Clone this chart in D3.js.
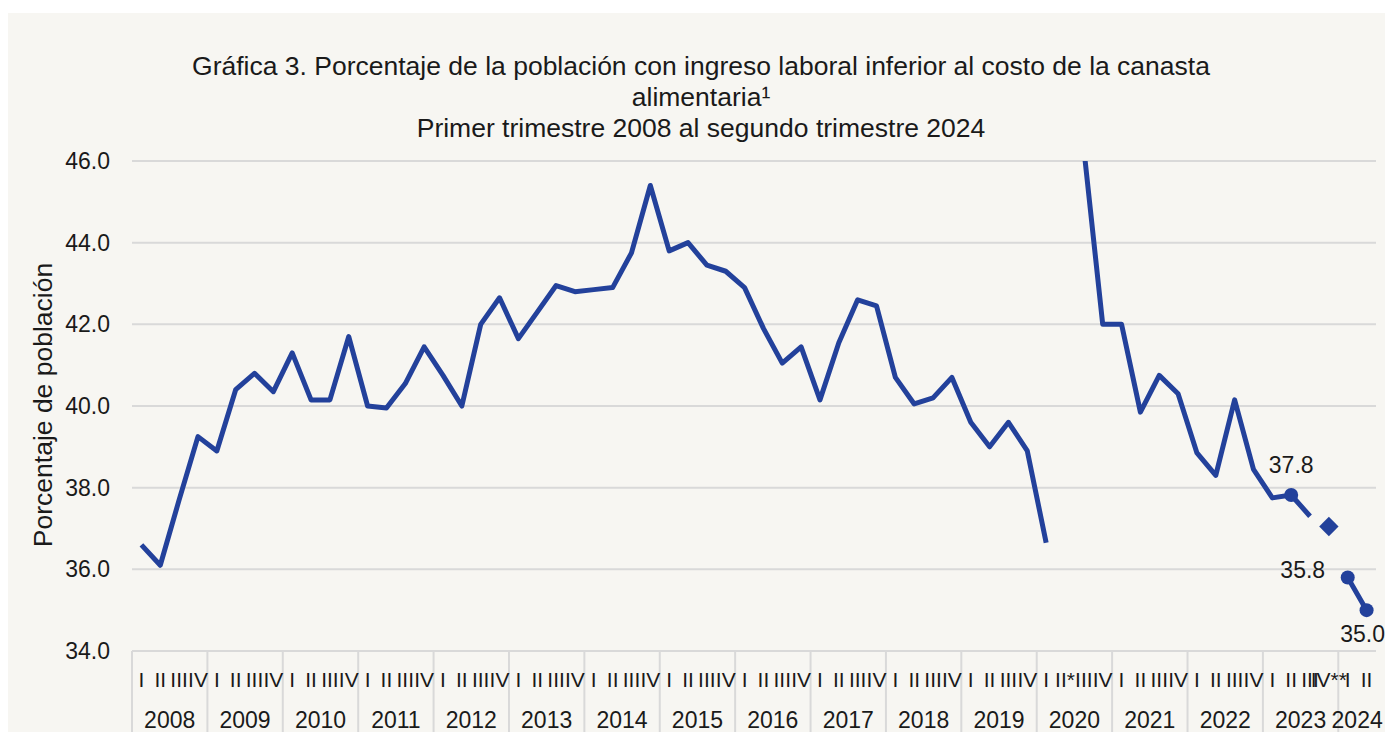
<!DOCTYPE html>
<html>
<head>
<meta charset="utf-8">
<script src="https://cdn.jsdelivr.net/npm/d3@7"></script>
<style>
  html, body { margin: 0; padding: 0; background: #ffffff; }
  svg { display: block; font-family: Arial, "Liberation Sans", sans-serif; }
</style>
</head>
<body>
<svg id="chart" width="1385" height="732"></svg>
<script>
// --- data ---
const years = ['2008', '2009', '2010', '2011', '2012', '2013', '2014', '2015',
	'2016', '2017', '2018', '2019', '2020', '2021', '2022', '2023', '2024'];
const quarterNames = ['I', 'II', 'III', 'IV'];
// quarters that carry a footnote mark in the axis label
const quarterNotes = {'2020-II': '*', '2023-IV': '**'};

// percentage of population, 2008-I .. 2024-II (null = not drawn on the line)
const values = [
	36.6, 36.1, 37.7, 39.25,
	38.9, 40.4, 40.8, 40.35,
	41.3, 40.15, 40.15, 41.7,
	40.0, 39.95, 40.55, 41.45,
	40.75, 40.0, 42.0, 42.65,
	41.65, 42.3, 42.95, 42.8,
	42.85, 42.9, 43.75, 45.4,
	43.8, 44.0, 43.45, 43.3,
	42.9, 41.9, 41.05, 41.45,
	40.15, 41.55, 42.6, 42.45,
	40.7, 40.05, 40.2, 40.7,
	39.6, 39.0, 39.6, 38.9,
	36.65, null, 46.3, 42.0,
	42.0, 39.85, 40.75, 40.3,
	38.85, 38.3, 40.15, 38.45,
	37.75, 37.82, 37.3, null,
	35.8, 35.0
];
// separate diamond point (2023-IV**)
const diamondPoint = {q: '2023-IV', value: 37.05};
// points shown with a circle marker and a value label
const labeledQuarters = ['2023-II', '2024-I', '2024-II'];

const yTicks = [34, 36, 38, 40, 42, 44, 46];
const titleLines = [
	'Gráfica 3. Porcentaje de la población con ingreso laboral inferior al costo de la canasta',
	'alimentaria¹',
	'Primer trimestre 2008 al segundo trimestre 2024'
];
const yTitle = 'Porcentaje de población';

// --- build quarter list ---
const quarters = [];
years.forEach(y => {
	const n = y === '2024' ? 2 : 4;
	for (let k = 0; k < n; k++) {
		quarters.push({year: y, name: quarterNames[k], id: y + '-' + quarterNames[k]});
	}
});
const points = quarters.map((q, i) => ({...q, value: values[i]}));

// --- layout ---
const W = 1385, H = 732;
const plot = {left: 132, right: 1376, top: 161, bottom: 651};
const blue = '#23419b';
const grid = '#d9d9d9';
const ink = '#1a1a1a';

const svg = d3.select('#chart');

svg.append('rect')
	.attr('x', 8).attr('y', 13)
	.attr('width', W - 8).attr('height', H - 13)
	.attr('fill', '#f7f6f2');

const x = d3.scaleBand()
	.domain(quarters.map(q => q.id))
	.range([plot.left, plot.right])
	.padding(0);

const y = d3.scaleLinear()
	.domain([34, 46])
	.range([plot.bottom, plot.top]);

const cx = id => x(id) + x.bandwidth() / 2;

// title
svg.append('g')
	.selectAll('text')
	.data(titleLines)
	.join('text')
	.attr('x', 701)
	.attr('y', (d, i) => 75 + i * 31)
	.attr('text-anchor', 'middle')
	.attr('font-size', 26.5)
	.attr('fill', ink)
	.text(d => d);

// y title
svg.append('text')
	.attr('transform', 'translate(52,405) rotate(-90)')
	.attr('text-anchor', 'middle')
	.attr('font-size', 26.5)
	.attr('fill', ink)
	.text(yTitle);

// gridlines
svg.append('g')
	.selectAll('line')
	.data(yTicks)
	.join('line')
	.attr('x1', plot.left).attr('x2', plot.right)
	.attr('y1', d => y(d)).attr('y2', d => y(d))
	.attr('stroke', grid)
	.attr('stroke-width', 2);

// y axis labels
const yAxis = svg.append('g')
	.attr('transform', `translate(${plot.left},0)`)
	.call(d3.axisLeft(y).tickValues(yTicks).tickFormat(d3.format('.1f')).tickSize(0).tickPadding(22));
yAxis.select('.domain').remove();
yAxis.selectAll('text')
	.attr('font-size', 23)
	.attr('font-family', 'Arial, "Liberation Sans", sans-serif')
	.attr('fill', ink);

// x axis: year separators
const yearStart = years.map(yr => x(yr + '-I'));
svg.append('g')
	.selectAll('line')
	.data(yearStart)
	.join('line')
	.attr('x1', d => d).attr('x2', d => d)
	.attr('y1', plot.bottom).attr('y2', H)
	.attr('stroke', grid)
	.attr('stroke-width', 2);

// quarter labels
svg.append('g')
	.selectAll('text')
	.data(quarters)
	.join('text')
	.attr('x', d => cx(d.id))
	.attr('y', 687)
	.attr('text-anchor', 'middle')
	.attr('font-size', 21)
	.attr('fill', ink)
	.text(d => d.name + (quarterNotes[d.id] || ''));

// year labels
svg.append('g')
	.selectAll('text')
	.data(years)
	.join('text')
	.attr('x', yr => {
		const qs = quarters.filter(q => q.year === yr);
		return (x(qs[0].id) + x(qs[qs.length - 1].id) + x.bandwidth()) / 2;
	})
	.attr('y', 728)
	.attr('text-anchor', 'middle')
	.attr('font-size', 23)
	.attr('fill', ink)
	.text(d => d);

// clip to plot area
svg.append('clipPath').attr('id', 'plot-clip')
	.append('rect')
	.attr('x', plot.left - 10).attr('y', plot.top)
	.attr('width', plot.right - plot.left + 20)
	.attr('height', plot.bottom - plot.top + 20);

const line = d3.line()
	.defined(d => d.value != null)
	.x(d => cx(d.id))
	.y(d => y(d.value));

svg.append('path')
	.datum(points)
	.attr('clip-path', 'url(#plot-clip)')
	.attr('fill', 'none')
	.attr('stroke', blue)
	.attr('stroke-width', 5)
	.attr('stroke-linejoin', 'round')
	.attr('d', line);

// circle markers with labels
const labeled = points.filter(p => labeledQuarters.includes(p.id));
svg.append('g')
	.selectAll('circle')
	.data(labeled)
	.join('circle')
	.attr('cx', d => cx(d.id))
	.attr('cy', d => y(d.value))
	.attr('r', 7)
	.attr('fill', blue);

const labelOffset = {
	'2023-II': [0, -22],
	'2024-I': [-45, 0],
	'2024-II': [-4, 32]
};
svg.append('g')
	.selectAll('text')
	.data(labeled)
	.join('text')
	.attr('x', d => cx(d.id) + labelOffset[d.id][0])
	.attr('y', d => y(d.value) + labelOffset[d.id][1])
	.attr('text-anchor', 'middle')
	.attr('font-size', 23)
	.attr('fill', ink)
	.text(d => d.value.toFixed(1));

// diamond marker
svg.append('path')
	.attr('transform', `translate(${cx(diamondPoint.q)},${y(diamondPoint.value)})`)
	.attr('d', d3.symbol(d3.symbolDiamond2, 240)())
	.attr('fill', blue);
</script>
</body>
</html>
